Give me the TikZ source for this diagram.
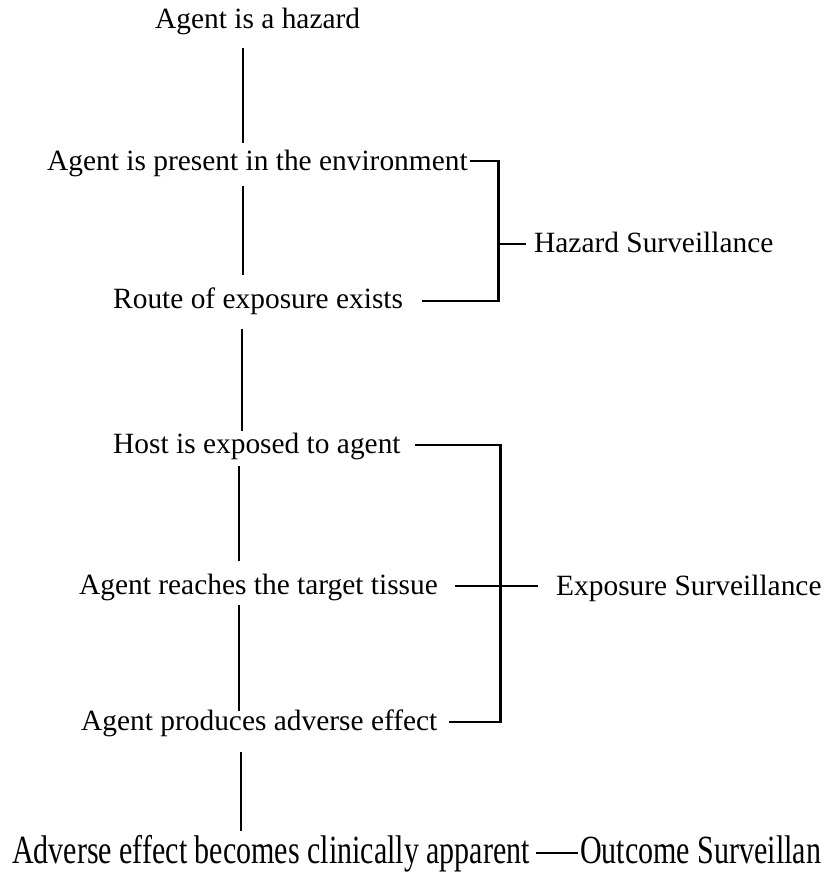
\documentclass[tikz,border=0pt]{standalone}
\usepackage{fontspec}
\usepackage{graphicx}
\setmainfont{Liberation Serif}
\usetikzlibrary{calc}
\begin{document}
\begin{tikzpicture}[x=1pt,y=-1pt,
  stage/.style={anchor=base west, inner sep=0pt, font=\fontsize{29.4}{35}\selectfont},
  narrow/.style={anchor=base west, inner sep=0pt, font=\fontsize{40}{48}\selectfont},
  link/.style={line width=2.6pt, line cap=butt},
  brace/.style={line width=2.6pt, line join=miter}]
\useasboundingbox (0,0) rectangle (829,875);

% chain of events
\node[stage] (t1) at (155,29)  {Agent is a hazard};
\node[stage] (t2) at (47,170)  {Agent is present in the environment};
\node[stage] (t3) at (113,308) {Route of exposure exists};
\node[stage] (t4) at (113,453) {Host is exposed to agent};
\node[stage] (t5) at (79,594)  {Agent reaches the target tissue};
\node[stage] (t6) at (81,730)  {Agent produces adverse effect};
\node[narrow] (t7) at (12,863) {\scalebox{0.75}[1]{Adverse effect becomes clinically apparent}};

% surveillance labels
\node[stage] (hz) at (534,252) {Hazard Surveillance};
\node[stage] (ex) at (556,595) {Exposure Surveillance};
\node[narrow] (oc) at (580,863) {\scalebox{0.75}[1]{Outcome Surveillan}};

% spine between consecutive events
\draw[link] ($(t1.base west)+(88,19)$)  -- ($(t2.base west)+(196,-27)$);
\draw[link] ($(t2.base west)+(196,16)$) -- ($(t3.base west)+(130,-33)$);
\draw[link] ($(t3.base west)+(129,21)$) -- ($(t4.base west)+(129,-22)$);
\draw[link] ($(t4.base west)+(126,13)$) -- ($(t5.base west)+(160,-33)$);
\draw[link] ($(t5.base west)+(160,11)$) -- ($(t6.base west)+(158,-19)$);
\draw[link] ($(t6.base west)+(160,22)$) -- ($(t7.base west)+(229,-32)$);

% hazard bracket
\draw[brace] ($(t2.base east)+(2,-9)$) -| ($(t3.base east)+(95,-7)$) -- ($(t3.base east)+(19,-7)$);
\draw[link] ($(hz.base west)+(-37,-8)$) -- ($(hz.base west)+(-8,-8)$);

% exposure bracket
\draw[brace] ($(t4.base east)+(14,-8)$) -| ($(t6.base east)+(63,-8)$) -- ($(t6.base east)+(11,-8)$);
\draw[link] ($(t5.base east)+(17,-8)$) -- ($(ex.base west)+(-18,-9)$);

% outcome link
\draw[link] ($(t7.base east)+(6,-10)$) -- ($(oc.base west)+(-2,-10)$);
\end{tikzpicture}
\end{document}
